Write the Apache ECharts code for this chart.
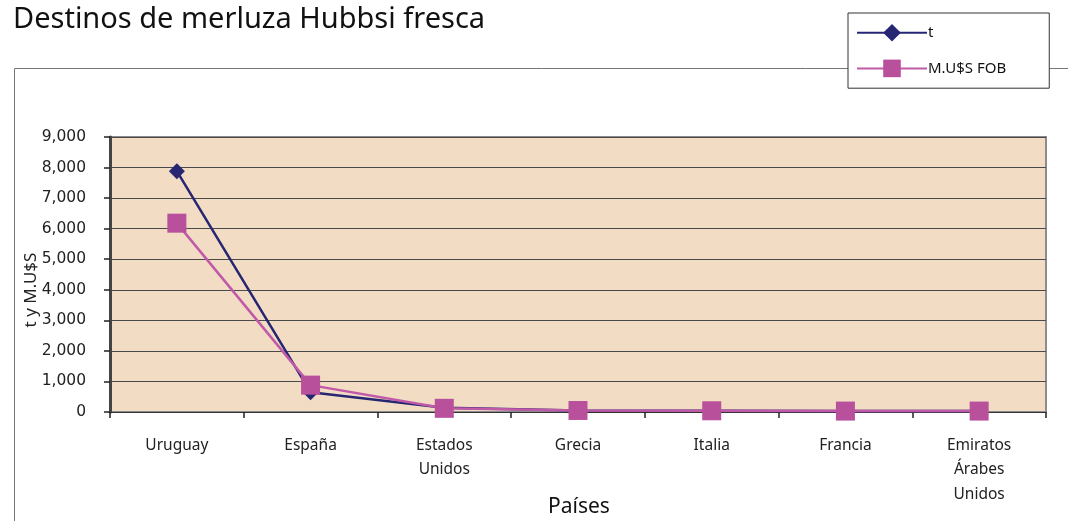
<!DOCTYPE html>
<html>
<head>
<meta charset="utf-8">
<script src="https://cdn.jsdelivr.net/npm/echarts@6/dist/echarts.min.js"></script>
<style>
  html, body { margin: 0; padding: 0; background: #fff; }
  #chart { width: 1068px; height: 521px; }
</style>
</head>
<body>
<div id="chart"></div>
<script>
// Destinos de merluza Hubbsi fresca: toneladas y millones de US$ FOB por país
const categories = ['Uruguay', 'España', 'Estados\nUnidos', 'Grecia', 'Italia', 'Francia', 'Emiratos\nÁrabes\nUnidos'];
const toneladas = [7880, 650, 140, 50, 40, 30, 30];
const millonesFob = [6180, 880, 120, 50, 40, 30, 30];
const yTicks = [0, 1000, 2000, 3000, 4000, 5000, 6000, 7000, 8000, 9000];
const xAxisTitle = 'Países';
const yAxisTitle = 't y M.U$S';

const chart = echarts.init(document.getElementById('chart'), null, { renderer: 'canvas' });

const option = {
  backgroundColor: '#ffffff',
  animation: false,
  title: {
    text: 'Destinos de merluza Hubbsi fresca',
    left: 8,
    top: 0,
    textStyle: { fontFamily: 'Noto Sans', fontWeight: 'normal', fontSize: 29, color: '#111' }
  },
  graphic: [
    {
      // outer chart frame
      type: 'rect',
      z: 0,
      shape: { x: 14.5, y: 68.5, width: 1100, height: 500 },
      style: { fill: 'none', stroke: '#777', lineWidth: 1 }
    },
    {
      // category axis title
      type: 'text',
      x: 579,
      y: 507,
      z: 5,
      style: {
        text: xAxisTitle,
        align: 'center',
        verticalAlign: 'middle',
        font: '21px "Noto Sans"',
        fill: '#111'
      }
    },
    {
      // value axis title, rotated
      type: 'text',
      x: 31,
      y: 290,
      rotation: Math.PI / 2,
      z: 5,
      style: {
        text: yAxisTitle,
        align: 'center',
        verticalAlign: 'middle',
        font: '17px "Noto Sans"',
        fill: '#222'
      }
    }
  ],
  legend: {
    orient: 'vertical',
    left: 848,
    top: 13,
    padding: [11, 43, 11, 8],
    itemGap: 18,
    itemWidth: 70,
    itemHeight: 22,
    backgroundColor: '#ffffff',
    borderColor: '#333',
    borderWidth: 1,
    z: 10,
    textStyle: { fontFamily: 'Noto Sans', fontSize: 15, color: '#111', padding: [0, 0, 0, -4] },
    data: ['t', 'M.U$S FOB']
  },
  grid: {
    left: 110,
    top: 137,
    width: 936,
    height: 275,
    outerBoundsMode: 'none',
    containLabel: false,
    show: true,
    backgroundColor: '#F2DCC4',
    borderColor: '#8c8c8c',
    borderWidth: 2
  },
  xAxis: {
    type: 'category',
    data: categories,
    boundaryGap: true,
    axisLine: { show: true, lineStyle: { color: '#333', width: 1 } },
    axisTick: { show: true, alignWithLabel: false, length: 6, lineStyle: { color: '#222', width: 1.5 } },
    axisLabel: {
      fontFamily: 'Noto Sans',
      fontSize: 15.5,
      color: '#222',
      lineHeight: 24.5,
      margin: 21,
      interval: 0
    },
    splitLine: { show: false }
  },
  yAxis: {
    type: 'value',
    min: 0,
    max: 9000,
    interval: 1000,
    axisLine: { show: true, lineStyle: { color: '#444', width: 3 } },
    axisTick: { show: true, length: 6, lineStyle: { color: '#222', width: 1.5 } },
    axisLabel: {
      fontFamily: 'DejaVu Sans',
      fontSize: 15.5,
      color: '#222',
      margin: 24,
      formatter: function (v) {
        return yTicks.indexOf(v) >= 0 ? v.toLocaleString('en-US') : '';
      }
    },
    splitLine: { show: true, lineStyle: { color: '#4a4a4a', width: 1 } }
  },
  series: [
    {
      name: 't',
      type: 'line',
      data: toneladas,
      symbol: 'diamond',
      symbolSize: 16,
      lineStyle: { color: '#262673', width: 2.5 },
      itemStyle: { color: '#262673' },
      z: 3
    },
    {
      name: 'M.U$S FOB',
      type: 'line',
      data: millonesFob,
      symbol: 'rect',
      symbolSize: 19,
      lineStyle: { color: '#C05AA8', width: 2.5 },
      itemStyle: { color: '#B9509C' },
      z: 4
    }
  ]
};

chart.setOption(option);
</script>
</body>
</html>
